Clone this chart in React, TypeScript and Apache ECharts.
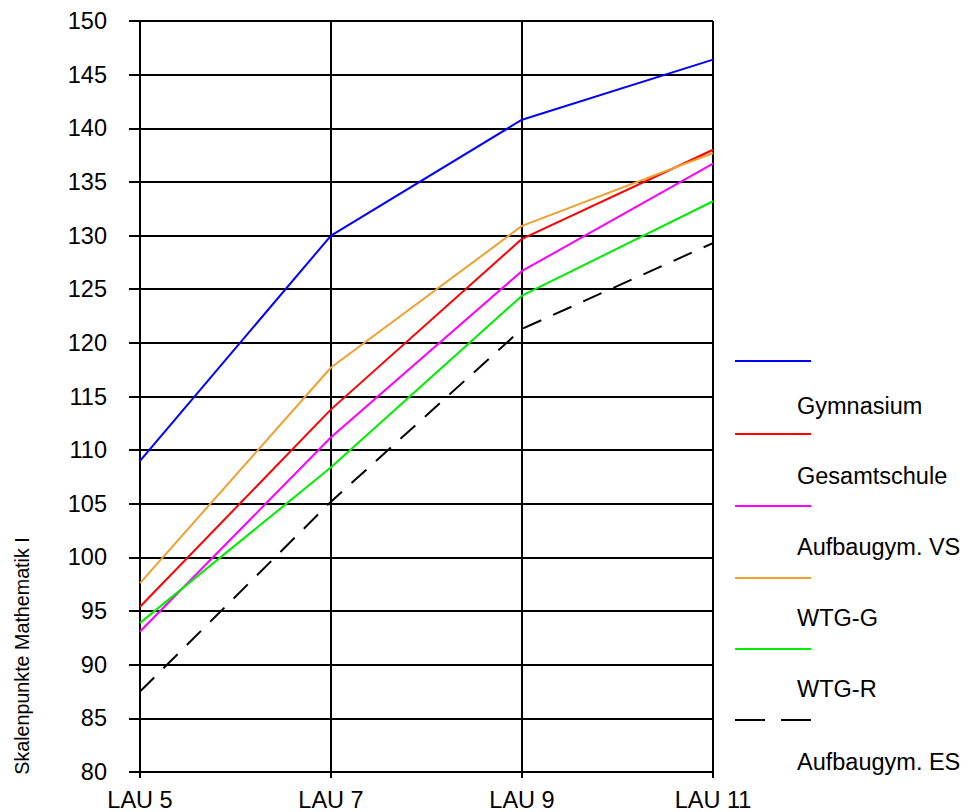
import React, { useEffect, useRef } from "react";
import * as echarts from "echarts";

const categories = ["LAU 5", "LAU 7", "LAU 9", "LAU 11"];
const seriesNames = ["Gymnasium", "Gesamtschule", "Aufbaugym. VS", "WTG-G", "WTG-R", "Aufbaugym. ES"];
const gymnasium = [109.0, 130.0, 140.8, 146.4];
const gesamtschule = [95.4, 113.8, 129.7, 138.0];
const aufbauVS = [93.1, 111.2, 126.7, 136.7];
const wtgG = [97.6, 117.7, 130.9, 137.7];
const wtgR = [93.9, 108.4, 124.4, 133.2];
const aufbauES = [87.5, 105.2, 121.3, 129.3];
const yMin = 80;
const yMax = 150;
const yStep = 5;

const colors = ["#0000ff", "#ff0000", "#ff00ff", "#f0a030", "#00ee00", "#000000"];
const values = [gymnasium, gesamtschule, aufbauVS, wtgG, wtgR, aufbauES];
const dashed = [false, false, false, false, false, true];

export default function App() {
  const ref = useRef<HTMLDivElement>(null);
  useEffect(() => {
    if (!ref.current) return;
    const chart = echarts.init(ref.current, null, { renderer: "svg" });
    const font = "Liberation Sans, Arial, sans-serif";
    const legendLineY = [361, 434, 506, 578, 649, 720];
    const legendTextY = [406, 476, 547, 618, 689, 762];
    const graphic: any[] = [];
    seriesNames.forEach((name, i) => {
      graphic.push({
        type: "line",
        shape: { x1: 735, y1: legendLineY[i], x2: 811, y2: legendLineY[i] },
        style: { stroke: colors[i], lineWidth: 2, lineDash: dashed[i] ? [30, 16] : null },
      });
      graphic.push({
        type: "text",
        x: 797,
        y: legendTextY[i],
        style: { text: name, fill: "#000", font: `23.5px ${font}`, textAlign: "left", textVerticalAlign: "middle" },
      });
    });
    graphic.push({
      type: "text",
      x: 22,
      y: 656,
      rotation: Math.PI / 2,
      style: {
        text: "Skalenpunkte Mathematik I",
        fill: "#000",
        font: `19.7px ${font}`,
        textAlign: "center",
        textVerticalAlign: "middle",
      },
    });
    chart.setOption({
      animation: false,
      grid: { left: 140, right: 257, top: 21, bottom: 38, containLabel: false },
      xAxis: {
        type: "category",
        data: categories,
        boundaryGap: false,
        axisLine: { lineStyle: { color: "#000", width: 2 } },
        axisTick: { show: true, length: 6, lineStyle: { color: "#000", width: 2 }, alignWithLabel: true },
        axisLabel: { color: "#000", fontSize: 23.5, fontFamily: font, margin: 16 },
        splitLine: { show: true, lineStyle: { color: "#000", width: 2 } },
      },
      yAxis: {
        type: "value",
        min: yMin,
        max: yMax,
        interval: yStep,
        axisLine: { show: true, lineStyle: { color: "#000", width: 2 } },
        axisTick: { show: true, length: 11, lineStyle: { color: "#000", width: 2 } },
        axisLabel: { color: "#000", fontSize: 23.5, fontFamily: font, margin: 33 },
        splitLine: { show: true, lineStyle: { color: "#000", width: 2 } },
      },
      graphic,
      series: seriesNames.map((name, i) => ({
        name,
        type: "line",
        data: values[i],
        symbol: "none",
        lineStyle: { color: colors[i], width: 2, type: dashed[i] ? [20, 13] : "solid" },
        itemStyle: { color: colors[i] },
        z: 3,
      })),
    });
    return () => chart.dispose();
  }, []);
  return <div ref={ref} style={{ position: "fixed", left: 0, top: 0, width: 970, height: 812, background: "#fff" }} />;
}
